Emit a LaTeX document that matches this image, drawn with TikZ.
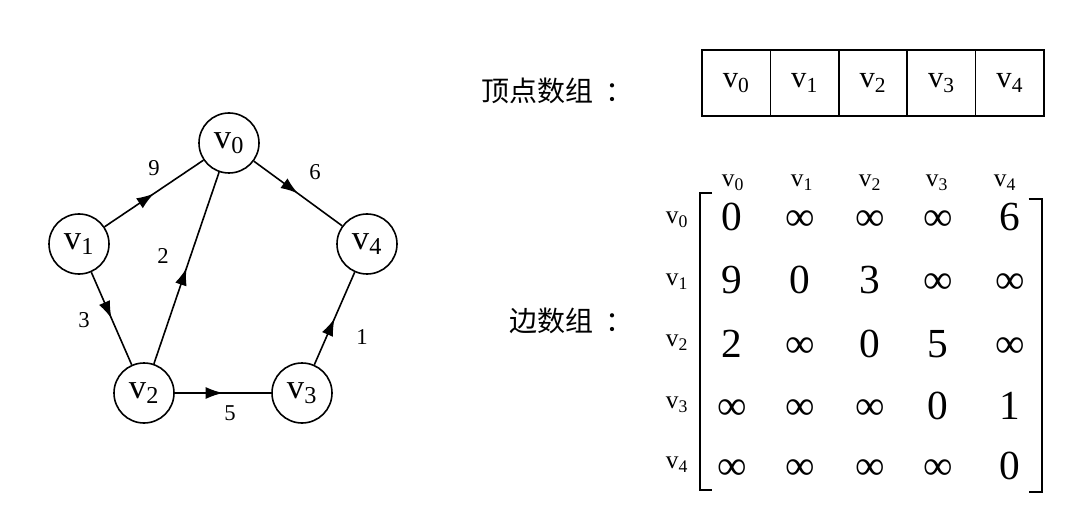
\documentclass[tikz,border=0pt]{standalone}
\usepackage{fontspec}
\setmainfont{Liberation Serif}
\newfontfamily\cjk{Noto Sans CJK SC}
\usetikzlibrary{arrows.meta,decorations.markings}
\newcommand{\vsub}[1]{v\textsubscript{#1}}
\begin{document}
\begin{tikzpicture}[x=0.75pt,y=-0.75pt,
  vert/.style={circle,draw,line width=1.2pt,minimum size=45pt,inner sep=0pt,font=\fontsize{26}{30}\selectfont},
  arc/.style={line width=1.2pt,postaction={decorate},
    decoration={markings,mark=at position 0.5 with {\arrow{Latex[length=13pt,width=9pt]}}}},
  wlabel/.style={inner sep=0pt,font=\fontsize{17}{20}\selectfont},
  cell/.style={draw,line width=1.2pt,minimum width=51.3pt,minimum height=49.5pt,inner sep=0pt,font=\fontsize{23}{26}\selectfont},
  cjklabel/.style={inner sep=0pt,anchor=west,font=\cjk\fontsize{21}{24}\selectfont},
  hdr/.style={inner sep=0pt,font=\fontsize{19}{22}\selectfont},
  entry/.style={inner sep=0pt,anchor=base,font=\fontsize{31}{34}\selectfont},
  bracket/.style={line width=1.3pt}
]
\useasboundingbox (0,0) rectangle (1067,520);

% graph
\node[vert] (v0) at (229,143) {\vsub{0}};
\node[vert] (v1) at (79,244) {\vsub{1}};
\node[vert] (v4) at (367,244) {\vsub{4}};
\node[vert] (v2) at (144,393) {\vsub{2}};
\node[vert] (v3) at (302,393) {\vsub{3}};
\draw[arc] (v1) -- (v0);
\draw[arc] (v0) -- (v4);
\draw[arc] (v2) -- (v0);
\draw[arc] (v1) -- (v2);
\draw[arc] (v2) -- (v3);
\draw[arc] (v3) -- (v4);
\node[wlabel] (w9) at (154,168) {9};
\node[wlabel] (w6) at (315,172) {6};
\node[wlabel] (w2) at (163,256) {2};
\node[wlabel] (w3) at (84,320) {3};
\node[wlabel] (w1) at (362,337) {1};
\node[wlabel] (w5) at (230,413) {5};

% vertex array
\node[cjklabel] (vlab) at (481,91) {顶点数组\hspace{9pt}：};
\node[cell] (c0) at (736.2,83) {\vsub{0}};
\node[cell] (c1) at (804.6,83) {\vsub{1}};
\node[cell] (c2) at (873,83) {\vsub{2}};
\node[cell] (c3) at (941.4,83) {\vsub{3}};
\node[cell] (c4) at (1009.8,83) {\vsub{4}};

% edge array
\node[cjklabel] (elab) at (509,321) {边数组\hspace{9pt}：};
\node[hdr] (h0) at (733,183) {\vsub{0}};
\node[hdr] (h1) at (802,183) {\vsub{1}};
\node[hdr] (h2) at (870,183) {\vsub{2}};
\node[hdr] (h3) at (937,183) {\vsub{3}};
\node[hdr] (h4) at (1005,183) {\vsub{4}};
\node[hdr] (r0) at (677,220) {\vsub{0}};
\node[hdr] (r1) at (677,282) {\vsub{1}};
\node[hdr] (r2) at (677,343) {\vsub{2}};
\node[hdr] (r3) at (677,405) {\vsub{3}};
\node[hdr] (r4) at (677,465) {\vsub{4}};

\node[entry] (m00) at (732,231) {0};
\node[entry] (m01) at (800,231) {∞};
\node[entry] (m02) at (870,231) {∞};
\node[entry] (m03) at (938,231) {∞};
\node[entry] (m04) at (1010,231) {6};

\node[entry] (m10) at (732,294) {9};
\node[entry] (m11) at (800,294) {0};
\node[entry] (m12) at (870,294) {3};
\node[entry] (m13) at (938,294) {∞};
\node[entry] (m14) at (1010,294) {∞};

\node[entry] (m20) at (732,357) {2};
\node[entry] (m21) at (800,357) {∞};
\node[entry] (m22) at (870,357) {0};
\node[entry] (m23) at (938,357) {5};
\node[entry] (m24) at (1010,357) {∞};

\node[entry] (m30) at (732,419) {∞};
\node[entry] (m31) at (800,419) {∞};
\node[entry] (m32) at (870,419) {∞};
\node[entry] (m33) at (938,419) {0};
\node[entry] (m34) at (1010,419) {1};

\node[entry] (m40) at (732,479) {∞};
\node[entry] (m41) at (800,479) {∞};
\node[entry] (m42) at (870,479) {∞};
\node[entry] (m43) at (938,479) {∞};
\node[entry] (m44) at (1010,479) {0};

\coordinate (lbt) at (700,193);
\coordinate (lbb) at (700,490);
\coordinate (rbt) at (1042,199);
\coordinate (rbb) at (1042,492);
\draw[bracket] ([xshift=9pt]lbt) -- (lbt) -- (lbb) -- ([xshift=9pt]lbb);
\draw[bracket] ([xshift=-10pt]rbt) -- (rbt) -- (rbb) -- ([xshift=-10pt]rbb);
\end{tikzpicture}
\end{document}
